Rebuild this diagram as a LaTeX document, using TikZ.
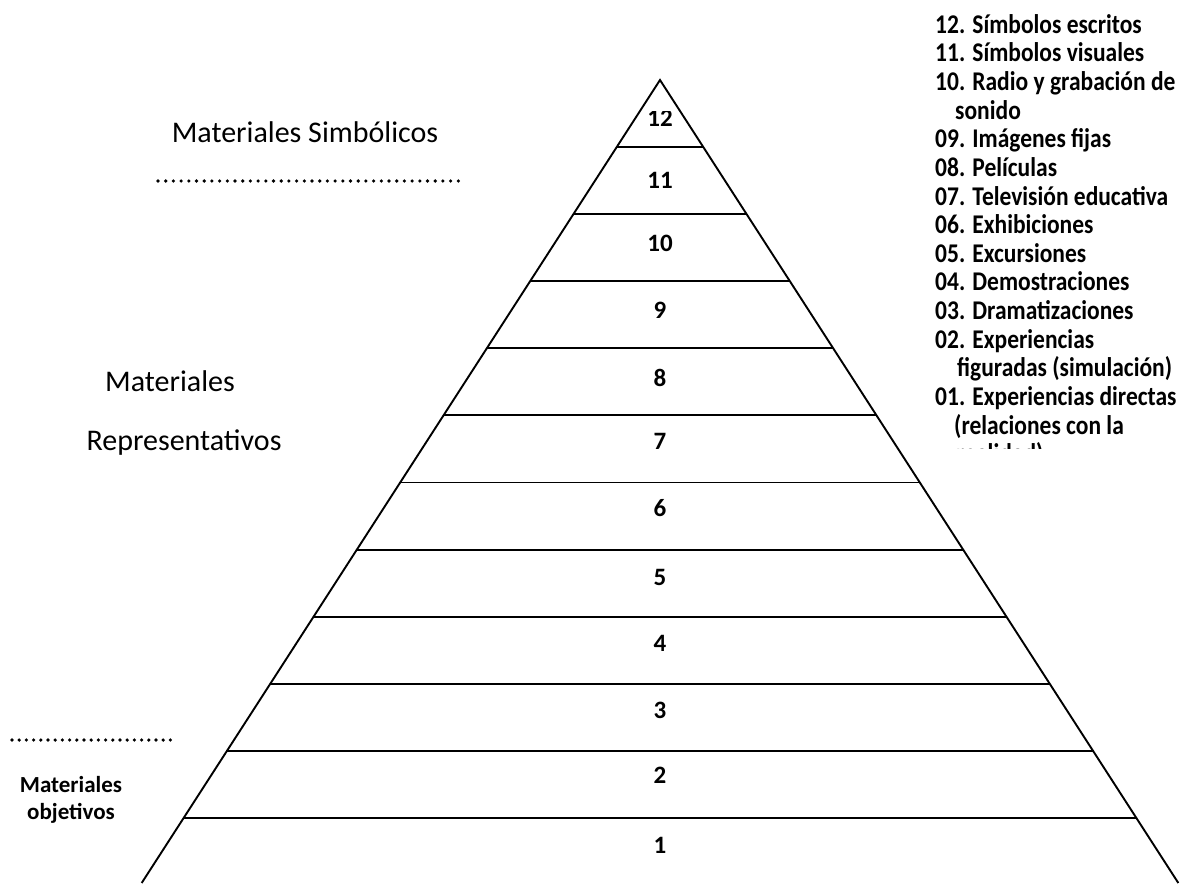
\documentclass[tikz,border=0pt]{standalone}
\usepackage{fontspec}
\setmainfont{Carlito}
\usepackage{graphicx}
\usepackage{tikz}
\usetikzlibrary{positioning,calc}

\begin{document}
\begin{tikzpicture}[x=1pt,y=-1pt]

\tikzset{
levelnum/.style={
font=\fontsize{25}{25}\selectfont\bfseries,
inner sep=0pt
},
grouplabel/.style={
font=\fontsize{30}{30}\selectfont,
inner sep=0pt,
anchor=base
},
dotline/.style={
line width=3.6pt,
line cap=round,
dash pattern=on 0pt off 7.7pt
},
edge/.style={
line width=1.9pt
}
}

\useasboundingbox (0,0) rectangle (1188,883);

%--------------------------------------------------
% PYRAMID
%--------------------------------------------------

\coordinate (apex) at (660,80);
\coordinate (baseL) at ({660-0.6455*803},883);
\coordinate (baseR) at ({660+0.6455*803},883);

\draw[edge] (baseL) -- (apex) -- (baseR);

\foreach \k [evaluate=\k as \y using 147+67.1*\k] in {0,...,10}
\draw[edge] ({660-0.6455*(\y-80)},\y) -- ({660+0.6455*(\y-80)},\y);

%--------------------------------------------------
% LEVEL NUMBERS
%--------------------------------------------------

\foreach \i/\y in {1/845,2/775,3/710,4/643,5/577,6/508,
                   7/441,8/378,9/310,10/243,11/180}
\node[levelnum] (n\i) at (660,\y) {\i};

\begin{scope}
\clip (600,111) rectangle (720,146);
\node[levelnum] (n12) at (660,118) {12};
\end{scope}

%--------------------------------------------------
% GROUP LABELS
%--------------------------------------------------

\node[grouplabel] (simb) at (305,142) {Materiales Simbólicos};
\coordinate (simbA) at (158,181);
\coordinate (simbB) at (462,181);
\draw[dotline] (simbA) -- (simbB);

\node[grouplabel] (reprA) at (170,391) {Materiales};
\node[grouplabel] (reprB) at (184,450) {Representativos};

\coordinate (objA) at (12,740);
\coordinate (objB) at (176,740);
\draw[dotline,dash pattern=on 0pt off 7.2pt] (objA) -- (objB);

\node[font=\fontsize{23}{27}\selectfont\bfseries,align=center,
inner sep=0pt] (obj) at (71,800)
{Materiales\\objetivos};

%--------------------------------------------------
% LIST OF LEVELS
%--------------------------------------------------

\begin{scope}
\clip (900,0) rectangle (1188,448);
\node[font=\fontsize{23.5}{24.9}\selectfont\bfseries,
inner sep=0pt,anchor=north west] (list) at (935,13)
{\scalebox{1}[1.15]{\begin{tabular}{@{}l@{}}
12. Símbolos escritos\\
11. Símbolos visuales\\
10. Radio y grabación de\\
\hspace*{20pt}sonido\\
09. Imágenes fijas\\
08. Películas\\
07. Televisión educativa\\
06. Exhibiciones\\
05. Excursiones\\
04. Demostraciones\\
03. Dramatizaciones\\
02. Experiencias\\
\hspace*{22pt}figuradas (simulación)\\
01. Experiencias directas\\
\hspace*{19pt}(relaciones con la\\
\hspace*{21pt}realidad)
\end{tabular}}};
\end{scope}

\end{tikzpicture}
\end{document}
